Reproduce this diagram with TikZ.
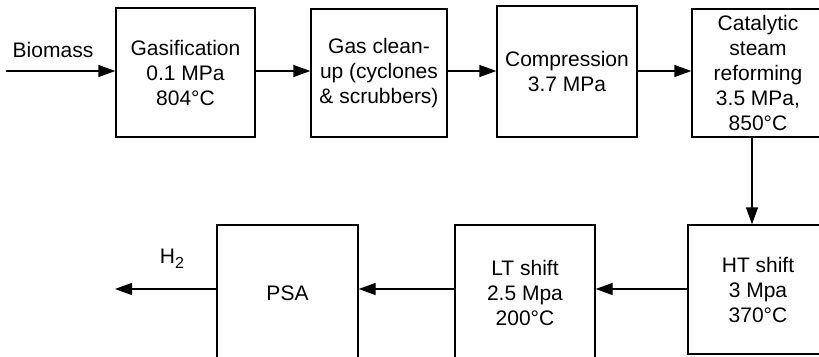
\documentclass[tikz,border=0pt]{standalone}
\usepackage{fontspec}
\setmainfont{Liberation Sans}
\usetikzlibrary{arrows.meta}
\begin{document}
\begin{tikzpicture}[x=1pt,y=-1pt,
  box/.style={draw,line width=1.3pt,align=center,inner sep=0pt,
    font=\fontsize{21pt}{25pt}\selectfont},
  lbl/.style={inner sep=0pt,font=\fontsize{21pt}{25pt}\selectfont},
  flow/.style={line width=1.3pt,-{Triangle[length=17pt,width=12pt]}}]
\useasboundingbox (0,0) rectangle (819,356);
\node[box,minimum width=139pt,minimum height=129pt] (gas) at (185.5,72.5) {Gasification\\0.1 MPa\\804°C};
\node[box,minimum width=136pt,minimum height=128pt] (clean) at (379,73) {Gas clean-\\up (cyclones\\\& scrubbers)};
\node[box,minimum width=140pt,minimum height=131pt] (comp) at (567,71.5) {Compression\\3.7 MPa};
\node[box,minimum width=132pt,minimum height=128pt] (cat) at (758,73) {Catalytic\\steam\\reforming\\3.5 MPa,\\850°C};
\node[box,minimum width=140pt,minimum height=129pt] (ht) at (758,289.5) {HT shift\\3 Mpa\\370°C};
\node[box,minimum width=140pt,minimum height=136pt] (lt) at (525,293) {LT shift\\2.5 Mpa\\200°C};
\node[box,minimum width=141pt,minimum height=136pt] (psa) at (287.5,293) {PSA};
\node[lbl] (bio) at (53,50) {Biomass};
\node[lbl] (h2) at (172,259) {H\raisebox{-5pt}{\fontsize{16pt}{16pt}\selectfont 2}};
\coordinate (bstart) at (6,71);
\coordinate (hend) at (115,289);
\draw[flow] (bstart) -- (bstart -| gas.west);
\draw[flow] (gas.east |- bstart) -- (clean.west |- bstart);
\draw[flow] (clean.east |- bstart) -- (comp.west |- bstart);
\draw[flow] (comp.east |- bstart) -- (cat.west |- bstart);
\draw[flow] (cat.south -| 752,0) -- (ht.north -| 752,0);
\draw[flow] (ht.west |- hend) -- (lt.east |- hend);
\draw[flow] (lt.west |- hend) -- (psa.east |- hend);
\draw[flow] (psa.west |- hend) -- (hend);
\end{tikzpicture}
\end{document}
